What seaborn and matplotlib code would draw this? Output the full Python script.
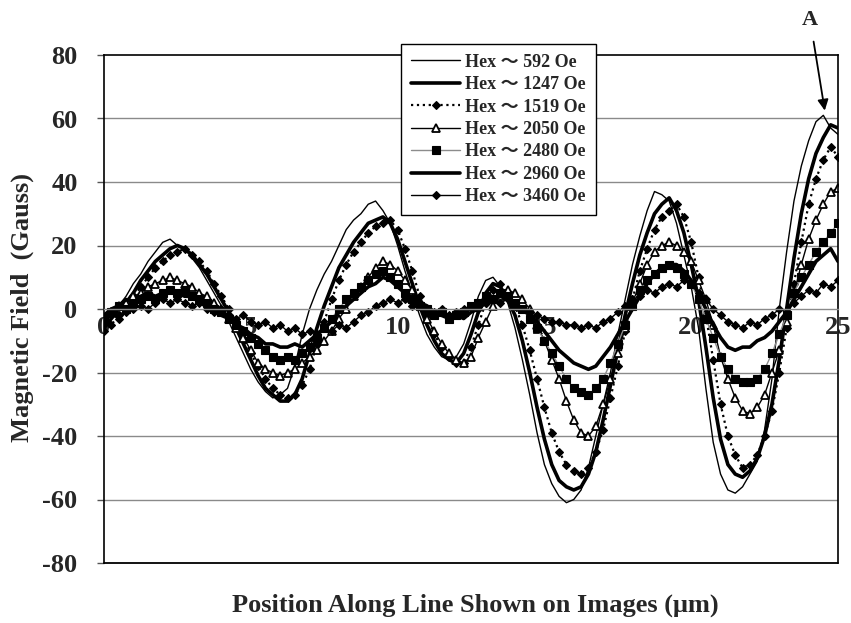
import numpy as np
import pandas as pd
import matplotlib
matplotlib.use("Agg")
import matplotlib.pyplot as plt
import seaborn as sns

# ---------------- data ----------------
position = [i * 0.25 for i in range(101)]  # µm, 0 .. 25

hex_labels = ["Hex \uff5e 592 Oe", "Hex \uff5e 1247 Oe", "Hex \uff5e 1519 Oe",
              "Hex \uff5e 2050 Oe", "Hex \uff5e 2480 Oe", "Hex \uff5e 2960 Oe",
              "Hex \uff5e 3460 Oe"]

h592 = [-4, -2, 1, 4, 8, 11, 15, 18, 21, 22, 20, 19, 16, 13, 9, 5, 1, -4, -9, -14,
        -19, -23, -26, -28, -27, -25, -18, -8, 0, 6, 11, 15, 20, 25, 28, 30, 33, 34, 31, 27,
        20, 12, 5, -2, -8, -12, -15, -16, -15, -11, -4, 4, 9, 10, 7, 2, -6, -16, -27, -39,
        -49, -55, -59, -61, -60, -57, -50, -40, -30, -20, -8, 3, 14, 23, 31, 37, 36, 34, 27, 17,
        7, -6, -25, -42, -52, -57, -58, -56, -52, -48, -38, -22, 0, 18, 34, 45, 53, 59, 61, 57,
        55]
h1247 = [-6, -3, 0, 2, 5, 9, 12, 15, 17, 19, 20, 19, 17, 14, 11, 7, 3, -1, -6, -11,
         -16, -21, -25, -27, -29, -29, -27, -22, -14, -6, 1, 7, 13, 17, 21, 24, 27, 28, 29, 27,
         22, 15, 8, 1, -5, -10, -14, -16, -17, -14, -8, -1, 5, 8, 7, 3, -2, -10, -20, -31,
         -41, -49, -54, -56, -57, -56, -52, -45, -35, -24, -13, -2, 8, 17, 24, 30, 33, 35, 31, 24,
         14, 3, -12, -28, -41, -49, -52, -53, -51, -47, -40, -30, -16, 0, 16, 30, 41, 49, 54, 58,
         57]
h1519 = [-7, -5, -2, 1, 4, 7, 10, 13, 15, 17, 18, 19, 17, 15, 12, 8, 4, 0, -4, -9,
         -14, -18, -22, -25, -27, -28, -27, -24, -19, -11, -4, 3, 9, 14, 18, 21, 24, 26, 27, 28,
         25, 19, 12, 4, -2, -8, -12, -15, -17, -17, -12, -5, 2, 6, 8, 5, 1, -5, -13, -22,
         -31, -39, -45, -49, -51, -52, -50, -45, -38, -28, -18, -7, 3, 12, 19, 25, 29, 31, 33, 29,
         21, 10, -2, -16, -30, -40, -46, -50, -49, -46, -40, -32, -20, -6, 8, 21, 33, 41, 47, 51,
         48]
h2050 = [-3, -1, 1, 2, 4, 5, 7, 8, 9, 10, 9, 8, 7, 5, 4, 2, 0, -3, -6, -9,
         -13, -17, -19, -20, -21, -20, -19, -17, -15, -13, -10, -7, -3, 0, 4, 7, 10, 13, 15, 14,
         12, 9, 6, 2, -3, -7, -11, -14, -16, -17, -15, -9, -4, 1, 4, 6, 5, 3, 0, -5,
         -10, -16, -22, -29, -35, -39, -40, -37, -30, -22, -14, -6, 2, 8, 14, 18, 20, 21, 20, 18,
         15, 9, 3, -5, -15, -22, -28, -32, -33, -31, -27, -20, -13, -4, 5, 14, 22, 28, 33, 37,
         38]
h2480 = [-3, -1, 1, 0, 2, 3, 4, 3, 5, 6, 5, 6, 4, 3, 2, 0, -1, -3, -5, -7,
         -9, -11, -13, -15, -16, -15, -16, -14, -12, -9, -6, -3, 0, 3, 5, 7, 9, 11, 12, 10,
         8, 5, 3, 1, 0, -2, -1, -3, -2, -1, 1, 2, 4, 3, 5, 4, 2, 0, -3, -6,
         -10, -14, -18, -22, -25, -26, -27, -25, -22, -17, -11, -5, 1, 6, 9, 11, 13, 14, 13, 11,
         8, 3, -3, -9, -15, -19, -22, -23, -23, -22, -19, -14, -8, -2, 5, 10, 14, 18, 21, 24,
         27]
h2960 = [-2, 0, 1, 3, 2, 4, 5, 4, 5, 6, 5, 4, 4, 2, 1, 0, -2, -3, -5, -6,
         -8, -9, -11, -11, -12, -12, -11, -12, -10, -8, -6, -4, -1, 1, 3, 5, 7, 8, 10, 9,
         7, 5, 3, 2, 1, -1, -2, -3, -2, -3, -1, 0, 2, 3, 4, 3, 2, 0, -2, -4,
         -7, -10, -13, -15, -17, -18, -19, -18, -15, -12, -8, -4, 0, 4, 8, 11, 13, 14, 14, 12,
         9, 5, 0, -5, -9, -12, -13, -12, -12, -10, -9, -7, -4, -1, 3, 7, 11, 15, 17, 19,
         15]
h3460 = [-4, -2, -3, -1, 0, 1, 0, 2, 3, 2, 3, 2, 1, 2, 0, -1, 0, -2, -3, -2,
         -4, -5, -4, -6, -5, -7, -6, -8, -7, -8, -6, -7, -5, -6, -4, -2, -1, 1, 2, 3,
         2, 3, 1, 2, 0, -1, 0, -2, -1, 0, 1, 0, 2, 3, 2, 3, 1, 0, -1, -2,
         -3, -4, -4, -5, -5, -6, -5, -6, -4, -3, -1, 1, 3, 4, 6, 5, 7, 8, 7, 9,
         8, 5, 3, 0, -2, -4, -5, -6, -4, -5, -3, -2, 0, -1, 2, 4, 6, 5, 8, 7,
         9]

series_values = [h592, h1247, h1519, h2050, h2480, h2960, h3460]

y_ticks = [-80, -60, -40, -20, 0, 20, 40, 60, 80]
x_ticks = [0, 5, 10, 15, 20, 25]

# ---------------- styling ----------------
sns.set_style("white")
plt.rcParams["font.family"] = ["Liberation Serif", "Noto Sans CJK JP", "DejaVu Sans"]
plt.rcParams["font.weight"] = "bold"
plt.rcParams["axes.axisbelow"] = True

styles = [
    dict(color="black", lw=1.0, ls="-", marker=None),
    dict(color="black", lw=2.6, ls="-", marker=None),
    dict(color="black", lw=1.6, ls=":", marker="D", ms=4.2, mfc="black", mec="black"),
    dict(color="black", lw=1.0, ls="-", marker="^", ms=6.0, mfc="white", mec="black", mew=1.3),
    dict(color="#8c8c8c", lw=1.0, ls="-", marker="s", ms=5.5, mfc="black", mec="black"),
    dict(color="black", lw=2.6, ls="-", marker=None),
    dict(color="black", lw=1.0, ls="-", marker="D", ms=3.8, mfc="black", mec="black"),
]

frames = []
for lab, vals in zip(hex_labels, series_values):
    frames.append(pd.DataFrame({"Position": position, "Field": vals, "Series": lab}))
df = pd.concat(frames, ignore_index=True)

fig = plt.figure(figsize=(8.51, 6.23), dpi=100)
ax = fig.add_axes([104 / 851, 1 - 563 / 623, (838 - 104) / 851, (563 - 55) / 623])

for lab, st in zip(hex_labels, styles):
    sub = df[df["Series"] == lab]
    kw = dict(color=st["color"], linewidth=st["lw"], linestyle=st["ls"])
    if st["marker"]:
        kw.update(marker=st["marker"], markersize=st["ms"], markerfacecolor=st["mfc"],
                  markeredgecolor=st["mec"], markeredgewidth=st.get("mew", 0.8))
    sns.lineplot(data=sub, x="Position", y="Field", ax=ax, label=lab, sort=False,
                 errorbar=None, **kw)

ax.set_xlim(0, 25)
ax.set_ylim(-80, 80)
ax.set_yticks(y_ticks)
ax.set_xticks(x_ticks)
ax.set_yticklabels([str(v) for v in y_ticks])
ax.set_xticklabels([str(v) for v in x_ticks])

# horizontal grid
for v in y_ticks[1:-1]:
    if v != 0:
        ax.axhline(v, color="#8a8a8a", lw=1.0, zorder=0.3)

# x axis drawn at y = 0, box drawn around the plot
ax.spines["bottom"].set_position(("data", 0))
ax.spines["bottom"].set_color("#8a8a8a")
ax.spines["bottom"].set_linewidth(1.0)
ax.axhline(-80, color="black", lw=1.3, clip_on=False, zorder=3)
for s in ["left", "right", "top"]:
    ax.spines[s].set_color("black")
    ax.spines[s].set_linewidth(1.2)

ax.tick_params(axis="x", direction="in", length=8, width=1, color="#555555",
               labelsize=19, pad=5)
ax.tick_params(axis="y", direction="out", length=5, width=1, color="#555555",
               labelsize=19, pad=14, left=True)
for t in ax.get_xticklabels() + ax.get_yticklabels():
    t.set_fontweight("bold")

ax.set_xlabel("")
ax.set_ylabel("")
fig.text(0.5 * (104 + 838) / 851 + 0.005, 1 - 605 / 623,
         "Position Along Line Shown on Images (\u03bcm)",
         ha="center", va="center", fontsize=19, fontweight="bold")
fig.text(22 / 851, 1 - 308 / 623, "Magnetic Field  (Gauss)", rotation=90,
         ha="center", va="center", fontsize=19, fontweight="bold")

leg = ax.legend(loc="upper left", bbox_to_anchor=(0.405, 1.022), frameon=True,
                fancybox=False, edgecolor="black", framealpha=1, fontsize=13,
                handlelength=2.7, labelspacing=0.3, borderpad=0.55, handletextpad=0.3,
                borderaxespad=0)
leg.get_frame().set_linewidth(1.0)
leg.set_zorder(5)
for t in leg.get_texts():
    t.set_fontweight("bold")

ax.annotate("A", xy=(24.55, 62.5), xytext=(24.05, 91), textcoords="data",
            ha="center", va="center", fontsize=16, fontweight="bold",
            annotation_clip=False,
            arrowprops=dict(arrowstyle="-|>", color="black", lw=1.3,
                            mutation_scale=16, shrinkA=6, shrinkB=0))

fig.savefig("out.png", dpi=100)
